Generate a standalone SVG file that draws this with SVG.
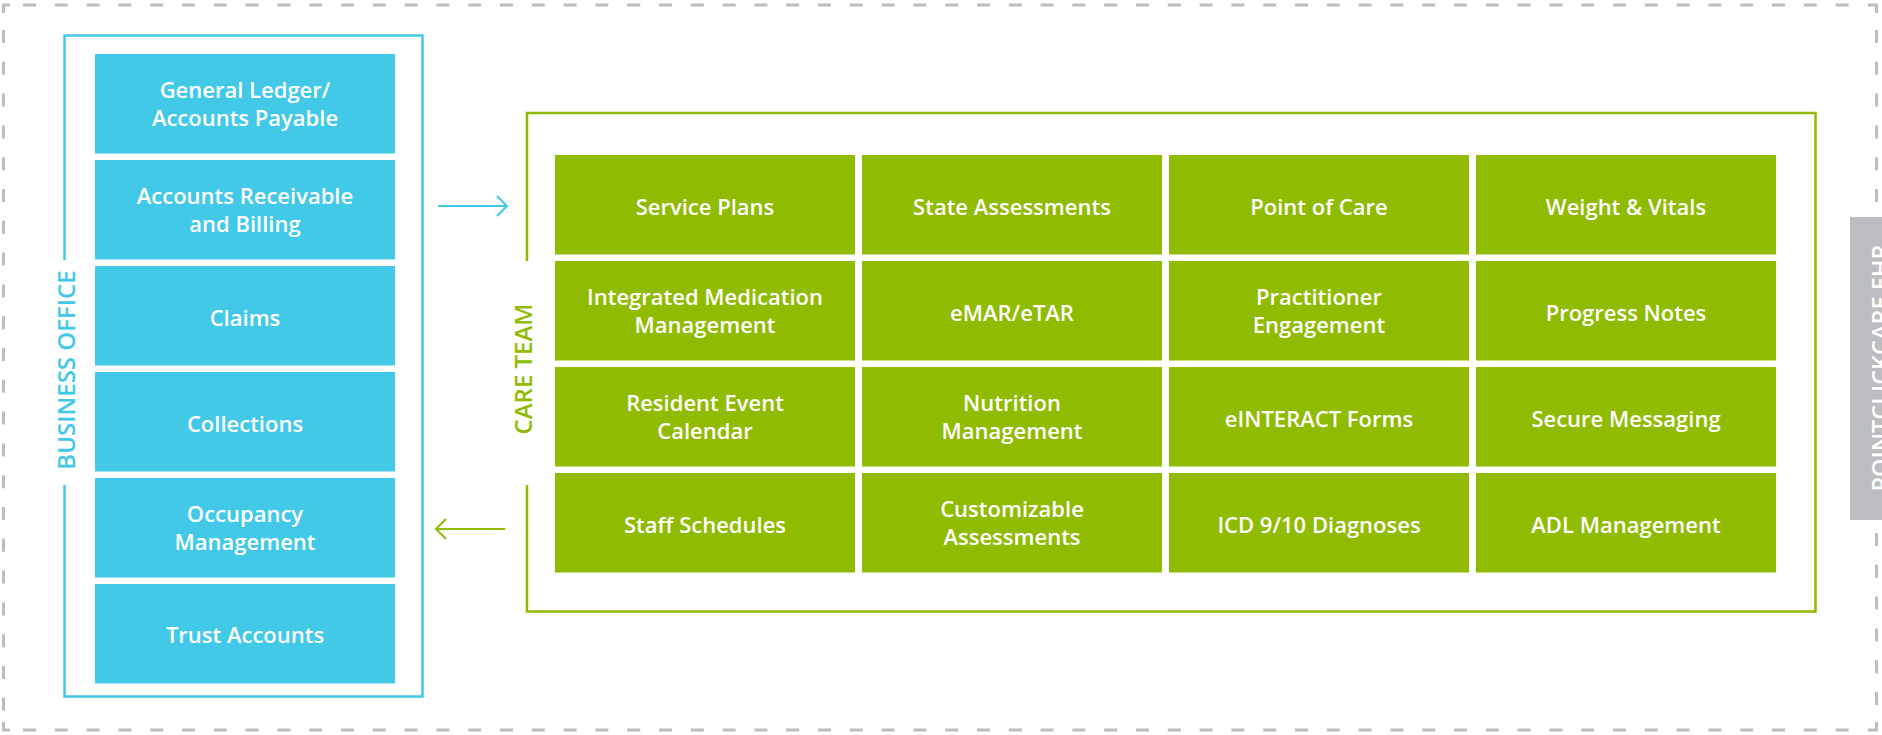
<svg xmlns="http://www.w3.org/2000/svg" width="1882" height="735" viewBox="0 0 1882 735">
<style>
  .dash { fill: none; stroke: #bcbdc0; stroke-width: 3; stroke-dasharray: 13 18.8; }
  .corner { fill: none; stroke: #bcbdc0; stroke-width: 3; }
  .bframe { fill: none; stroke: #41c8e8; stroke-width: 2.5; }
  .gframe { fill: none; stroke: #8fbb00; stroke-width: 2.5; }
  .bbox { fill: #42c9e8; }
  .gbox { fill: #8fbb00; }
  .t { font-family: "Open Sans", "Liberation Sans", sans-serif; font-weight: 600; font-size: 22px; fill: #ffffff; text-anchor: middle; }
  .lbl { font-family: "Open Sans", "Liberation Sans", sans-serif; font-weight: 600; font-size: 24px; text-anchor: middle; }
  .arrow-b { fill: none; stroke: #41c8e8; stroke-width: 2; }
  .arrow-g { fill: none; stroke: #8fbb00; stroke-width: 2; }
</style>
<rect width="1882" height="735" fill="#ffffff"/>

<g id="platform-border">
  <line class="dash" x1="23" y1="5" x2="1860" y2="5"/>
  <line class="dash" x1="23" y1="730" x2="1860" y2="730"/>
  <line class="dash" x1="3.5" y1="30" x2="3.5" y2="715"/>
  <line class="dash" x1="1876.5" y1="30" x2="1876.5" y2="202"/>
  <line class="dash" x1="1876.5" y1="533" x2="1876.5" y2="715"/>
  <path class="corner" d="M3.5,13 V5 H10"/>
  <path class="corner" d="M1868,5 H1876.5 V13"/>
  <path class="corner" d="M3.5,722 V730 H10"/>
  <path class="corner" d="M1868,730 H1876.5 V722"/>
</g>

<g id="pointclickcare-tab">
  <rect x="1850" y="217" width="40" height="303" fill="#bcbdc0"/>
  <text class="lbl" transform="translate(1888.5,368) rotate(-90)" style="font-size:23.5px" fill="#ffffff">POINTCLICKCARE EHR</text>
</g>

<g id="business-office">
  <path class="bframe" d="M64.5,260 V35.5 H422.5 V696.5 H64.5 V485"/>
  <text class="lbl" transform="translate(75,370) rotate(-90)" fill="#41c8e8">BUSINESS OFFICE</text>
  <g id="bo-general-ledger">
    <rect class="bbox" x="95" y="54" width="300" height="99.5"/>
    <text class="t" x="245" y="97.8">General Ledger/</text>
    <text class="t" x="245" y="126.3">Accounts Payable</text>
  </g>
  <g id="bo-accounts-receivable">
    <rect class="bbox" x="95" y="160" width="300" height="99.5"/>
    <text class="t" x="245" y="203.8">Accounts Receivable</text>
    <text class="t" x="245" y="232.3">and Billing</text>
  </g>
  <g id="bo-claims">
    <rect class="bbox" x="95" y="266" width="300" height="99.5"/>
    <text class="t" x="245" y="325.8">Claims</text>
  </g>
  <g id="bo-collections">
    <rect class="bbox" x="95" y="372" width="300" height="99.5"/>
    <text class="t" x="245" y="431.8">Collections</text>
  </g>
  <g id="bo-occupancy">
    <rect class="bbox" x="95" y="478" width="300" height="99.5"/>
    <text class="t" x="245" y="521.8">Occupancy</text>
    <text class="t" x="245" y="550.3">Management</text>
  </g>
  <g id="bo-trust">
    <rect class="bbox" x="95" y="584" width="300" height="99.5"/>
    <text class="t" x="245" y="642.8">Trust Accounts</text>
  </g>
</g>

<g id="care-team">
  <path class="gframe" d="M527,261 V113 H1815.5 V611.5 H527 V485"/>
  <text class="lbl" transform="translate(532,369) rotate(-90)" fill="#8fbb00">CARE TEAM</text>

  <g id="ct-service-plans"><rect class="gbox" x="555" y="155" width="300" height="99.5"/><text class="t" x="705" y="214.8">Service Plans</text></g>
  <g id="ct-state-assessments"><rect class="gbox" x="862" y="155" width="300" height="99.5"/><text class="t" x="1012" y="214.8">State Assessments</text></g>
  <g id="ct-point-of-care"><rect class="gbox" x="1169" y="155" width="300" height="99.5"/><text class="t" x="1319" y="214.8">Point of Care</text></g>
  <g id="ct-weight-vitals"><rect class="gbox" x="1476" y="155" width="300" height="99.5"/><text class="t" x="1626" y="214.8">Weight &amp; Vitals</text></g>

  <g id="ct-medication"><rect class="gbox" x="555" y="261" width="300" height="99.5"/><text class="t" x="705" y="304.8">Integrated Medication</text><text class="t" x="705" y="333.3">Management</text></g>
  <g id="ct-emar"><rect class="gbox" x="862" y="261" width="300" height="99.5"/><text class="t" x="1012" y="320.8">eMAR/eTAR</text></g>
  <g id="ct-practitioner"><rect class="gbox" x="1169" y="261" width="300" height="99.5"/><text class="t" x="1319" y="304.8">Practitioner</text><text class="t" x="1319" y="333.3">Engagement</text></g>
  <g id="ct-progress-notes"><rect class="gbox" x="1476" y="261" width="300" height="99.5"/><text class="t" x="1626" y="320.8">Progress Notes</text></g>

  <g id="ct-resident-event"><rect class="gbox" x="555" y="367" width="300" height="99.5"/><text class="t" x="705" y="410.8">Resident Event</text><text class="t" x="705" y="439.3">Calendar</text></g>
  <g id="ct-nutrition"><rect class="gbox" x="862" y="367" width="300" height="99.5"/><text class="t" x="1012" y="410.8">Nutrition</text><text class="t" x="1012" y="439.3">Management</text></g>
  <g id="ct-einteract"><rect class="gbox" x="1169" y="367" width="300" height="99.5"/><text class="t" x="1319" y="426.8">eINTERACT Forms</text></g>
  <g id="ct-secure-messaging"><rect class="gbox" x="1476" y="367" width="300" height="99.5"/><text class="t" x="1626" y="426.8">Secure Messaging</text></g>

  <g id="ct-staff-schedules"><rect class="gbox" x="555" y="473" width="300" height="99.5"/><text class="t" x="705" y="532.8">Staff Schedules</text></g>
  <g id="ct-customizable"><rect class="gbox" x="862" y="473" width="300" height="99.5"/><text class="t" x="1012" y="516.8">Customizable</text><text class="t" x="1012" y="545.3">Assessments</text></g>
  <g id="ct-icd"><rect class="gbox" x="1169" y="473" width="300" height="99.5"/><text class="t" x="1319" y="532.8">ICD 9/10 Diagnoses</text></g>
  <g id="ct-adl"><rect class="gbox" x="1476" y="473" width="300" height="99.5"/><text class="t" x="1626" y="532.8">ADL Management</text></g>
</g>

<g id="connectors">
  <path class="arrow-b" d="M438,206 H507 M497,196 L507,206 L497,216"/>
  <path class="arrow-g" d="M505,529 H436 M446,519 L436,529 L446,539"/>
</g>
</svg>
